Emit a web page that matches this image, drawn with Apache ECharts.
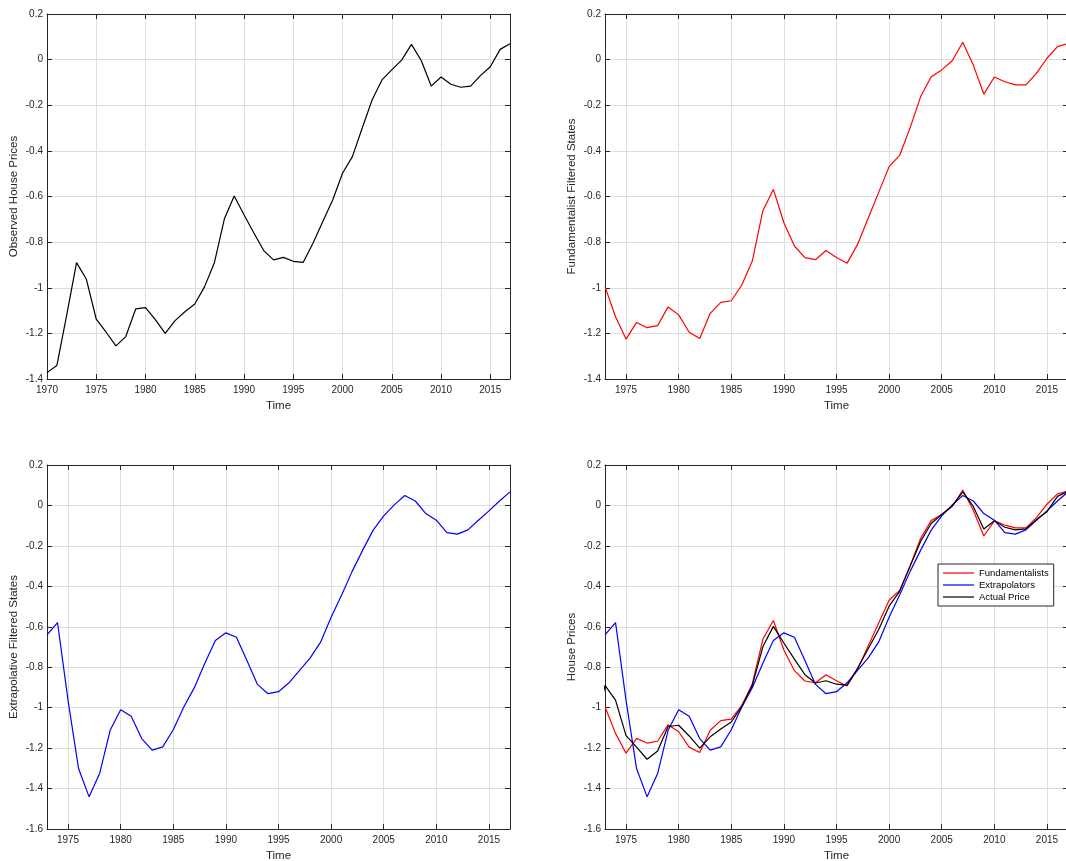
<!DOCTYPE html>
<html>
<head>
<meta charset="utf-8">
<script src="https://cdn.jsdelivr.net/npm/echarts@6/dist/echarts.min.js"></script>
<style>
html,body{margin:0;padding:0;background:#fff;}
#main{width:1066px;height:861px;}
</style>
</head>
<body>
<div id="main"></div>
<script>
// ---- data ----
const yearsObserved = [1970,1971,1972,1973,1974,1975,1976,1977,1978,1979,
  1980,1981,1982,1983,1984,1985,1986,1987,1988,1989,
  1990,1991,1992,1993,1994,1995,1996,1997,1998,1999,
  2000,2001,2002,2003,2004,2005,2006,2007,2008,2009,
  2010,2011,2012,2013,2014,2015,2016,2017];
const observedPrices = [-1.372,-1.341,-1.12,-0.890,-0.963,-1.138,-1.195,-1.255,-1.214,-1.093,
  -1.087,-1.14,-1.200,-1.144,-1.105,-1.071,-0.995,-0.889,-0.699,-0.598,
  -0.68,-0.76,-0.837,-0.878,-0.867,-0.884,-0.889,-0.805,-0.71,-0.615,
  -0.498,-0.425,-0.30,-0.177,-0.089,-0.045,-0.002,0.067,-0.005,-0.116,
  -0.076,-0.108,-0.121,-0.116,-0.07,-0.031,0.045,0.070];

const yearsFiltered = [1973,1974,1975,1976,1977,1978,1979,
  1980,1981,1982,1983,1984,1985,1986,1987,1988,1989,
  1990,1991,1992,1993,1994,1995,1996,1997,1998,1999,
  2000,2001,2002,2003,2004,2005,2006,2007,2008,2009,
  2010,2011,2012,2013,2014,2015,2016,2017];
const fundamentalist = [-0.995,-1.127,-1.225,-1.152,-1.175,-1.166,-1.084,
  -1.119,-1.195,-1.222,-1.112,-1.064,-1.057,-0.988,-0.883,-0.662,-0.569,
  -0.715,-0.817,-0.868,-0.877,-0.837,-0.867,-0.893,-0.810,-0.696,-0.583,
  -0.469,-0.420,-0.298,-0.162,-0.075,-0.045,-0.005,0.076,-0.024,-0.151,
  -0.076,-0.097,-0.111,-0.111,-0.060,0.006,0.057,0.071];
const extrapolative = [-0.640,-0.579,-0.964,-1.301,-1.441,-1.326,-1.112,
  -1.010,-1.043,-1.153,-1.210,-1.194,-1.109,-0.997,-0.901,-0.780,-0.668,
  -0.630,-0.652,-0.767,-0.885,-0.931,-0.921,-0.877,-0.816,-0.755,-0.676,
  -0.553,-0.443,-0.326,-0.221,-0.122,-0.052,0.003,0.049,0.022,-0.040,
  -0.073,-0.134,-0.142,-0.121,-0.073,-0.027,0.022,0.067];

const xTicksFull = [1970,1975,1980,1985,1990,1995,2000,2005,2010,2015];
const xTicksShort = [1975,1980,1985,1990,1995,2000,2005,2010,2015];

const seriesNames = ['Fundamentalists','Extrapolators','Actual Price'];
const yTitles = ['Observed House Prices','Fundamentalist Filtered States','Extrapolative Filtered States','House Prices'];
const xTitle = 'Time';

// ---- style ----
const FONT = "'Liberation Sans', Arial, Helvetica, sans-serif";
const AX = '#262626';
const GRIDC = '#dedede';
const RED = '#ff0000', BLUE = '#0000ff', BLACK = '#000000';

const panels = [
  {left:47, top:14, width:463, height:365, xmin:1970, ymin:-1.4, ticks:xTicksFull},
  {left:605, top:14, width:463, height:365, xmin:1973, ymin:-1.4, ticks:xTicksShort},
  {left:47, top:465, width:463, height:364, xmin:1973, ymin:-1.6, ticks:xTicksShort},
  {left:605, top:465, width:463, height:364, xmin:1973, ymin:-1.6, ticks:xTicksShort}
];

const grid = [], xAxis = [], yAxis = [];
panels.forEach((p, i) => {
  grid.push({left:p.left, top:p.top, width:p.width, height:p.height, containLabel:false, outerBoundsMode:'none'});
  // bottom x
  xAxis.push({
    type:'value', gridIndex:i, position:'bottom', min:p.xmin, max:2017,
    axisLine:{show:true, onZero:false, lineStyle:{color:AX, width:1}},
    axisTick:{show:true, inside:true, length:5, customValues:p.ticks, lineStyle:{color:AX}},
    axisLabel:{show:true, customValues:p.ticks, fontSize:10, color:AX, fontFamily:FONT, margin:6,
      formatter:v => String(Math.round(v))},
    splitLine:{show:true, lineStyle:{color:GRIDC, width:1}},
    name:xTitle, nameLocation:'middle', nameGap:21,
    nameTextStyle:{fontSize:11.5, color:AX, fontFamily:FONT}
  });
  // top x (box)
  xAxis.push({
    type:'value', gridIndex:i, position:'top', min:p.xmin, max:2017,
    axisLine:{show:true, onZero:false, lineStyle:{color:AX, width:1}},
    axisTick:{show:true, inside:true, length:5, customValues:p.ticks, lineStyle:{color:AX}},
    axisLabel:{show:false, customValues:p.ticks},
    splitLine:{show:false}
  });
  // left y
  yAxis.push({
    type:'value', gridIndex:i, position:'left', min:p.ymin, max:0.2, interval:0.2,
    axisLine:{show:true, onZero:false, lineStyle:{color:AX, width:1}},
    axisTick:{show:true, inside:true, length:5, lineStyle:{color:AX}},
    axisLabel:{show:true, fontSize:10, color:AX, fontFamily:FONT, margin:4,
      formatter:v => String(Math.round(v*10)/10)},
    splitLine:{show:true, lineStyle:{color:GRIDC, width:1}},
    name:yTitles[i], nameLocation:'middle', nameGap:27,
    nameTextStyle:{fontSize:11.5, color:AX, fontFamily:FONT}
  });
  // right y (box)
  yAxis.push({
    type:'value', gridIndex:i, position:'right', min:p.ymin, max:0.2, interval:0.2,
    axisLine:{show:true, onZero:false, lineStyle:{color:AX, width:1}},
    axisTick:{show:true, inside:true, length:5, lineStyle:{color:AX}},
    axisLabel:{show:false},
    splitLine:{show:false}
  });
});

function pairs(xs, ys){ return xs.map((x, k) => [x, ys[k]]); }
function lineSeries(name, gi, xs, ys, color){
  return {
    name:name, type:'line', xAxisIndex:gi*2, yAxisIndex:gi*2,
    data:pairs(xs, ys), showSymbol:false, symbol:'none', clip:true,
    lineStyle:{color:color, width:1.2}, itemStyle:{color:color},
    animation:false, silent:true
  };
}

const series = [
  lineSeries('Observed', 0, yearsObserved, observedPrices, BLACK),
  lineSeries('Fundamentalist', 1, yearsFiltered, fundamentalist, RED),
  lineSeries('Extrapolative', 2, yearsFiltered, extrapolative, BLUE),
  lineSeries(seriesNames[0], 3, yearsFiltered, fundamentalist, RED),
  lineSeries(seriesNames[1], 3, yearsFiltered, extrapolative, BLUE),
  lineSeries(seriesNames[2], 3, yearsObserved, observedPrices, BLACK)
];

const option = {
  backgroundColor:'#ffffff',
  animation:false,
  grid:grid, xAxis:xAxis, yAxis:yAxis, series:series,
  legend:{
    data:seriesNames, orient:'vertical', left:938, top:564,
    icon:'rect', itemWidth:31, itemHeight:1.2, itemGap:0,
    padding:[3,5,3,5], borderColor:AX, borderWidth:1, backgroundColor:'#ffffff',
    selectedMode:false,
    textStyle:{fontSize:9.5, color:'#000', fontFamily:FONT, lineHeight:12, height:12}
  }
};

const chart = echarts.init(document.getElementById('main'), null, {renderer:'canvas'});
chart.setOption(option);
</script>
</body>
</html>
